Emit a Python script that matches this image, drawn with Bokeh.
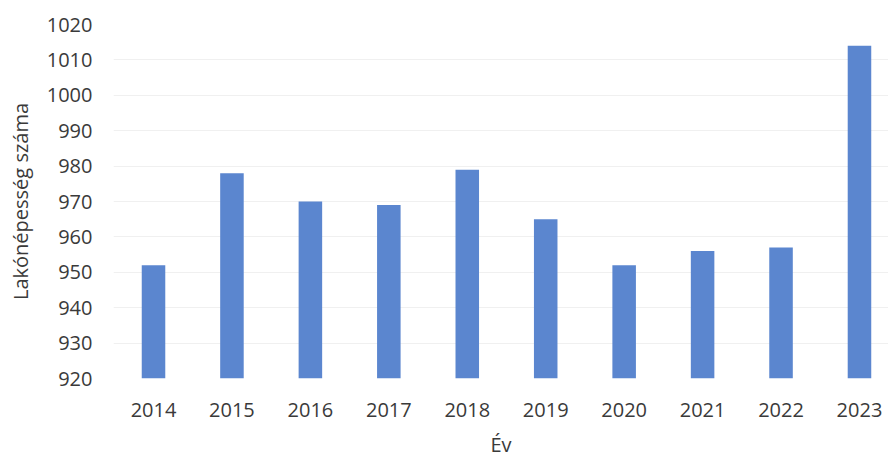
from bokeh.plotting import figure
from bokeh.models import Range1d, FixedTicker, ColumnDataSource
from bokeh.embed import file_html
from bokeh.resources import INLINE

years = [2014, 2015, 2016, 2017, 2018, 2019, 2020, 2021, 2022, 2023]
population = [952, 978, 970, 969, 979, 965, 952, 956, 957, 1014]
y_ticks = list(range(920, 1021, 10))
y_label = "Lakónépesség száma"
x_label = "Év"

FONT = "Open Sans"
TXT = "#3a3a3a"

src = ColumnDataSource(data=dict(x=years, top=population, bottom=[920] * len(years)))

p = figure(width=888, height=461, output_backend="svg", toolbar_location=None,
           x_range=Range1d(2013.49, 2023.37), y_range=Range1d(920, 1020),
           min_border_left=113, min_border_right=0, min_border_top=24, min_border_bottom=83)

p.vbar(x="x", top="top", bottom="bottom", width=0.3, source=src,
       fill_color="#5B86CF", line_color=None)

p.outline_line_color = None
p.background_fill_color = "white"
p.border_fill_color = "white"

p.xgrid.grid_line_color = None
p.ygrid.grid_line_color = "#f0f0f0"
p.ygrid.grid_line_width = 1

p.yaxis.ticker = FixedTicker(ticks=y_ticks)
p.xaxis.ticker = FixedTicker(ticks=years)

for ax in (p.xaxis[0], p.yaxis[0]):
    ax.axis_line_color = None
    ax.major_tick_line_color = None
    ax.minor_tick_line_color = None
    ax.major_label_text_font = FONT
    ax.major_label_text_font_size = "20px"
    ax.major_label_text_color = TXT
    ax.axis_label_text_font = FONT
    ax.axis_label_text_font_size = "20px"
    ax.axis_label_text_font_style = "normal"
    ax.axis_label_text_color = TXT

p.yaxis.axis_label = y_label
p.xaxis.axis_label = x_label
p.yaxis.major_label_standoff = 15
p.yaxis.axis_label_standoff = 10
p.xaxis.major_label_standoff = 18
p.xaxis.axis_label_standoff = 11

open("out.html", "w").write(file_html(p, INLINE))
